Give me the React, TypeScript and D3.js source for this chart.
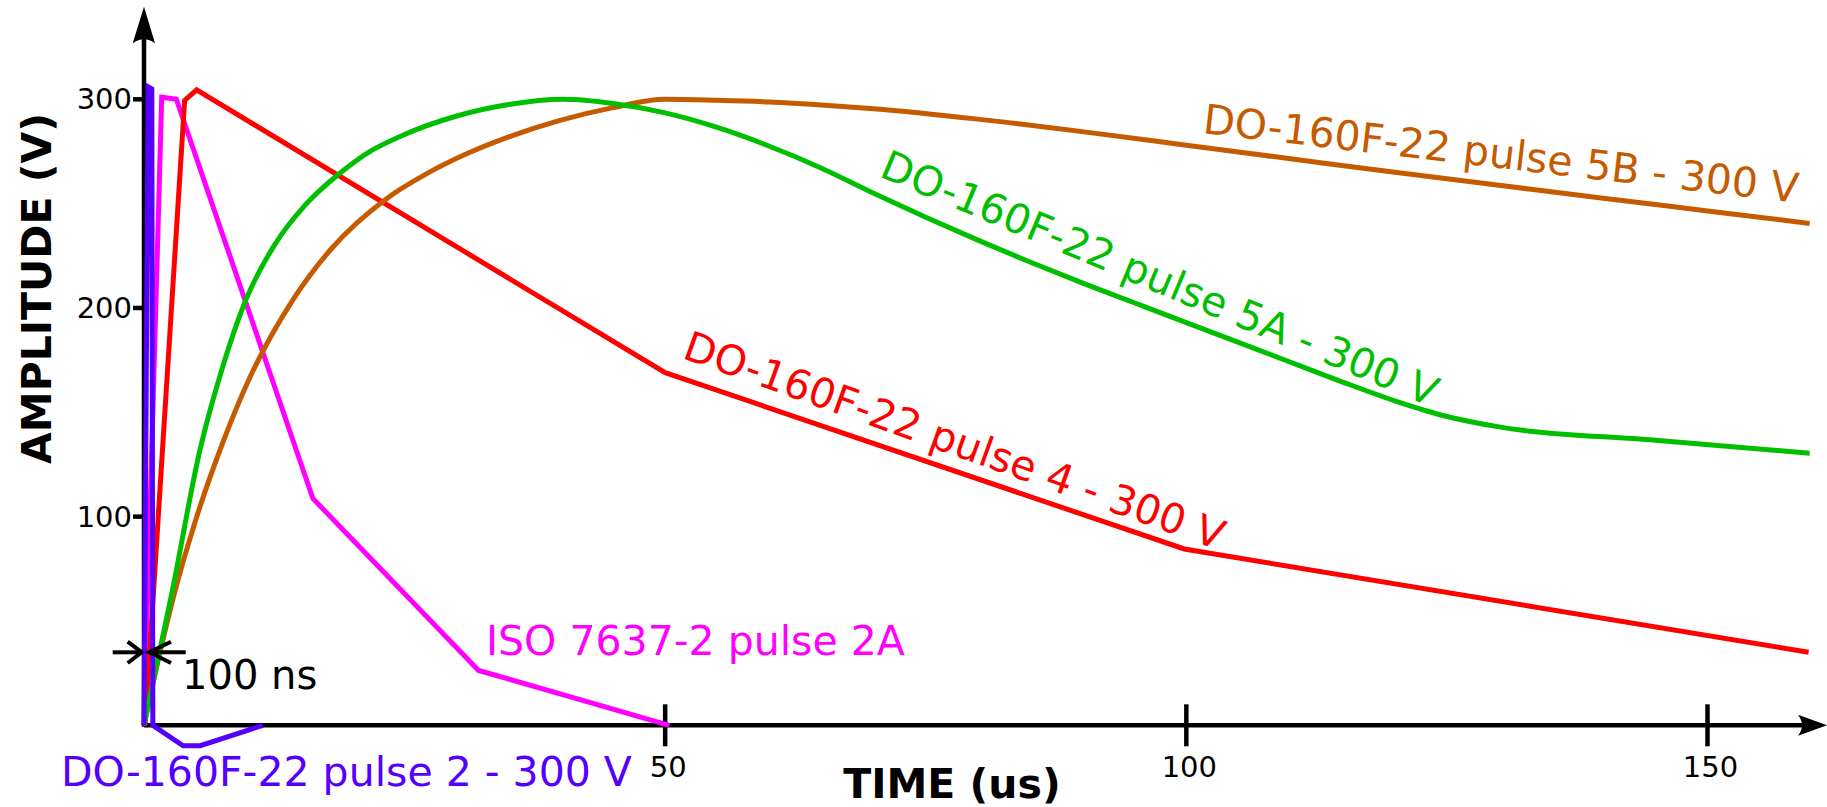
import React from 'react';
import * as d3 from 'd3';

// ---- data (time in us, amplitude in V) ----
const xTicks = [50, 100, 150];
const yTicks = [100, 200, 300];

const pulse2: [number, number][] = [[0, 0], [0.4, 306], [0.75, 305], [0.85, 0], [3.75, -9.8], [5.4, -9.8], [11.4, 0]];
const iso2A: [number, number][] = [[0, 0], [1.7, 301], [3.1, 300], [16.2, 108.7], [32.1, 26.3], [50.4, 0]];
const pulse4: [number, number][] = [[0.1, 0], [3.9, 299.5], [5.05, 304.5], [50, 169], [99.8, 84.5], [159.7, 35]];
const pulse5A: [number, number][] = [
  [0, 0], [2.7, 64], [5.37, 132], [7.5, 171], [9.7, 203], [12.5, 230], [15.5, 249.5], [18.65, 264],
  [21.5, 274.5], [24.56, 282.2], [30, 292], [35, 297.5], [40.2, 300], [45, 298], [50, 293.5],
  [55, 286.5], [60, 277.5], [65, 267], [70, 255], [75, 243.5], [80, 232.5], [85, 222], [90, 212],
  [95, 202.5], [100, 193], [105, 183.5], [110, 174], [115, 164.5], [120, 155.5], [125, 148],
  [130, 143], [145, 136.6], [159.8, 130.4],
];
const pulse5B: [number, number][] = [
  [0, 0], [1.4, 32], [2.8, 61], [5, 99], [7.6, 136], [10, 165], [14.3, 204], [18, 228.5], [23.3, 252.5], [27, 264],
  [31, 274], [35, 282], [40, 290], [45, 296], [50, 300], [55, 299.5], [60, 298.7], [65, 297.3],
  [70, 295.5], [80, 290.5], [90, 284.5], [100, 278], [110, 271.5], [120, 265], [130, 258.8],
  [140, 252.6], [150, 246.5], [159.8, 240.5],
];

const labels = {
  p5B: 'DO-160F-22 pulse 5B - 300 V',
  p5A: 'DO-160F-22 pulse 5A - 300 V',
  p4: 'DO-160F-22 pulse 4 - 300 V',
  iso: 'ISO 7637-2 pulse 2A',
  p2: 'DO-160F-22 pulse 2 - 300 V',
};

const COLORS = {
  blue: '#5500ff',
  magenta: '#ff00ff',
  red: '#ff0000',
  green: '#00bf00',
  brown: '#c65a00',
};

const W = 1827;
const H = 807;
const FONT = '"DejaVu Sans", Verdana, sans-serif';

export default function App() {
  const x = d3.scaleLinear().domain([0, 150]).range([144, 1707.5]);
  const y = d3.scaleLinear().domain([0, 300]).range([725.3, 99.3]);

  const lin = d3.line<[number, number]>().x(d => x(d[0])).y(d => y(d[1]));
  const smooth = d3.line<[number, number]>().x(d => x(d[0])).y(d => y(d[1])).curve(d3.curveMonotoneX);

  const x0 = x(0);
  const y0 = y(0);

  const lineStyle = { fill: 'none', strokeWidth: 5, strokeLinejoin: 'miter' as const, strokeMiterlimit: 4 };

  return (
    <svg width={W} height={H} style={{ position: 'absolute', left: 0, top: 0, background: '#fff' }} fontFamily={FONT}>
      <rect width={W} height={H} fill="#fff" />
      {/* axes */}
      <line x1={x0} y1={y0} x2={W - 18} y2={y0} stroke="#000" strokeWidth={4.5} />
      <path d={`M${W},${y0} L${W - 29},${y0 - 10.5} Q${W - 21},${y0} ${W - 29},${y0 + 10.5} Z`} fill="#000" />
      <line x1={x0} y1={y0 + 1.5} x2={x0} y2={25} stroke="#000" strokeWidth={4.5} />
      <path d={`M${x0},6.7 L${x0 - 11.3},43.3 Q${x0},35 ${x0 + 11},43.3 Z`} fill="#000" />

      {xTicks.map(t => (
        <g key={'xt' + t}>
          <line x1={x(t)} x2={x(t)} y1={y0 - 21} y2={y0 + 21} stroke="#000" strokeWidth={4.5} />
          <text x={x(t) + 3} y={777} fontSize={29} textAnchor="middle" fill="#000">{t}</text>
        </g>
      ))}
      {yTicks.map(t => (
        <g key={'yt' + t}>
          <line x1={x0 - 11} x2={x0} y1={y(t)} y2={y(t)} stroke="#000" strokeWidth={4.5} />
          <text x={132} y={y(t)} fontSize={29} textAnchor="end" dominantBaseline="central" fill="#000">{t}</text>
        </g>
      ))}

      <text x={952} y={798} fontSize={41} fontWeight="bold" textAnchor="middle" fill="#000">TIME (us)</text>
      <text transform="translate(51,288.5) rotate(-90)" fontSize={41} fontWeight="bold" textAnchor="middle" fill="#000">AMPLITUDE (V)</text>

      {/* curves */}
      <path d={lin(iso2A) || ''} stroke={COLORS.magenta} {...lineStyle} />
      <path d={lin(pulse4) || ''} stroke={COLORS.red} {...lineStyle} />
      <path d={smooth(pulse5B) || ''} stroke={COLORS.brown} {...lineStyle} />
      <path d={smooth(pulse5A) || ''} stroke={COLORS.green} {...lineStyle} />
      <path d={lin(pulse2) || ''} stroke={COLORS.blue} {...lineStyle} />

      {/* 100 ns marker */}
      <g stroke="#000" strokeWidth={4} fill="none">
        <line x1={112.7} y1={652.3} x2={141.7} y2={652.3} />
        <polyline points="127.7,641.7 141.7,652.3 127.7,663" />
        <line x1={149.3} y1={652.3} x2={185.7} y2={652.3} />
        <polyline points="171,641.7 149.3,652.3 171,663" />
      </g>
      <text x={182} y={689} fontSize={40} fill="#000">100 ns</text>

      {/* labels */}
      <text transform="translate(1202,133) rotate(6.7)" fontSize={41} fill={COLORS.brown}>{labels.p5B}</text>
      <text transform="translate(878,176) rotate(22.7)" fontSize={41} fill={COLORS.green}>{labels.p5A}</text>
      <text transform="translate(681,357.7) rotate(19.7)" fontSize={41} fill={COLORS.red}>{labels.p4}</text>
      <text x={486} y={655} fontSize={41} fill={COLORS.magenta}>{labels.iso}</text>
      <text x={61} y={786} fontSize={41} fill={COLORS.blue}>{labels.p2}</text>
    </svg>
  );
}
